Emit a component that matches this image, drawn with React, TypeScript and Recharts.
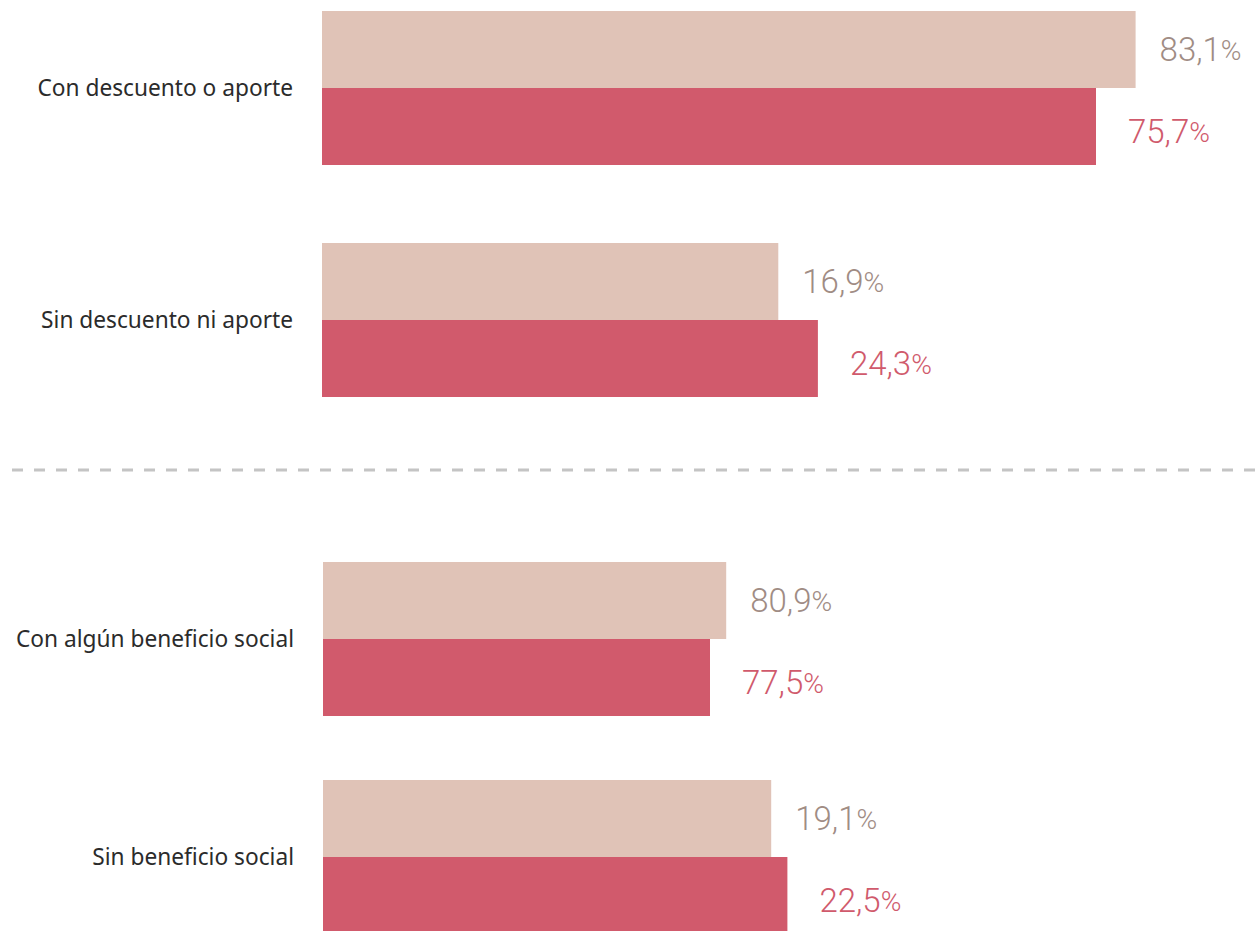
import { BarChart, Bar, XAxis, YAxis, LabelList } from 'recharts'

// categories, split in the two blocks separated by the dashed rule
const TOP_CATEGORIES = ['Con descuento o aporte', 'Sin descuento ni aporte']
const BOTTOM_CATEGORIES = ['Con algún beneficio social', 'Sin beneficio social']

// printed values (labels)
const TOP_LIGHT_VALUES = ['83,1', '16,9']
const TOP_DARK_VALUES = ['75,7', '24,3']
const BOTTOM_LIGHT_VALUES = ['80,9', '19,1']
const BOTTOM_DARK_VALUES = ['77,5', '22,5']

// bar lengths as drawn in the picture (0-100 of the plot width)
const TOP_LIGHT_LENGTHS = [90.4, 50.7]
const TOP_DARK_LENGTHS = [86.0, 55.1]
const BOTTOM_LIGHT_LENGTHS = [44.8, 49.8]
const BOTTOM_DARK_LENGTHS = [43.0, 51.6]

const LIGHT = '#e0c3b7'
const DARK = '#d15a6c'
const LIGHT_TEXT = '#a08c84'
const DARK_TEXT = '#d05a6c'
const FONT = 'Roboto, sans-serif'

function buildRows(cats: string[], lightLen: number[], darkLen: number[], lightVal: string[], darkVal: string[]) {
    return cats.map((name, i) => ({
        name,
        light: lightLen[i],
        dark: darkLen[i],
        lightLabel: lightVal[i],
        darkLabel: darkVal[i],
    }))
}

const valueLabel = (color: string, dx: number, dy: number) => (props: any) => {
    const { x, y, width, height, value } = props
    return (
        <text
            x={x + width + dx}
            y={y + height / 2 + dy}
            fill={color}
            fontFamily={FONT}
            fontWeight={300}
            fontSize={33}
            dominantBaseline="central"
        >
            {value}
            <tspan fontSize={28}>%</tspan>
        </text>
    )
}

function Block({ rows, axisWidth, height }: { rows: any[]; axisWidth: number; height: number }) {
    return (
        <BarChart
            width={1255}
            height={height}
            data={rows}
            layout="vertical"
            margin={{ top: 0, right: 1255 - axisWidth - 900, bottom: 0, left: 0 }}
            barGap={0}
        >
            <XAxis type="number" domain={[0, 100]} hide />
            <YAxis
                type="category"
                dataKey="name"
                width={axisWidth}
                axisLine={false}
                tickLine={false}
                tickSize={0}
                tickMargin={29}
                tick={{ fill: '#2b2b2b', fontSize: 22.7, fontFamily: '"Noto Sans", sans-serif' }}
            />
            <Bar dataKey="light" fill={LIGHT} barSize={77} isAnimationActive={false}>
                <LabelList dataKey="lightLabel" content={valueLabel(LIGHT_TEXT, 24, 0)} />
            </Bar>
            <Bar dataKey="dark" fill={DARK} barSize={77} isAnimationActive={false}>
                <LabelList dataKey="darkLabel" content={valueLabel(DARK_TEXT, 32, 5)} />
            </Bar>
        </BarChart>
    )
}

export default function App() {
    const topRows = buildRows(TOP_CATEGORIES, TOP_LIGHT_LENGTHS, TOP_DARK_LENGTHS, TOP_LIGHT_VALUES, TOP_DARK_VALUES)
    const bottomRows = buildRows(BOTTOM_CATEGORIES, BOTTOM_LIGHT_LENGTHS, BOTTOM_DARK_LENGTHS, BOTTOM_LIGHT_VALUES, BOTTOM_DARK_VALUES)

    return (
        <div style={{ position: 'absolute', left: 0, top: 0, width: 1255, height: 931, overflow: 'hidden', background: '#fff' }}>
            <div style={{ position: 'absolute', left: 0, top: -28 }}>
                <Block rows={topRows} axisWidth={322} height={464} />
            </div>
            <svg style={{ position: 'absolute', left: 0, top: 460 }} width={1255} height={20}>
                <line x1={12} y1={10} x2={1255} y2={10} stroke="#c4c4c4" strokeWidth={3} strokeDasharray="11 11" />
            </svg>
            <div style={{ position: 'absolute', left: 0, top: 530 }}>
                <Block rows={bottomRows} axisWidth={323} height={436} />
            </div>
        </div>
    )
}
